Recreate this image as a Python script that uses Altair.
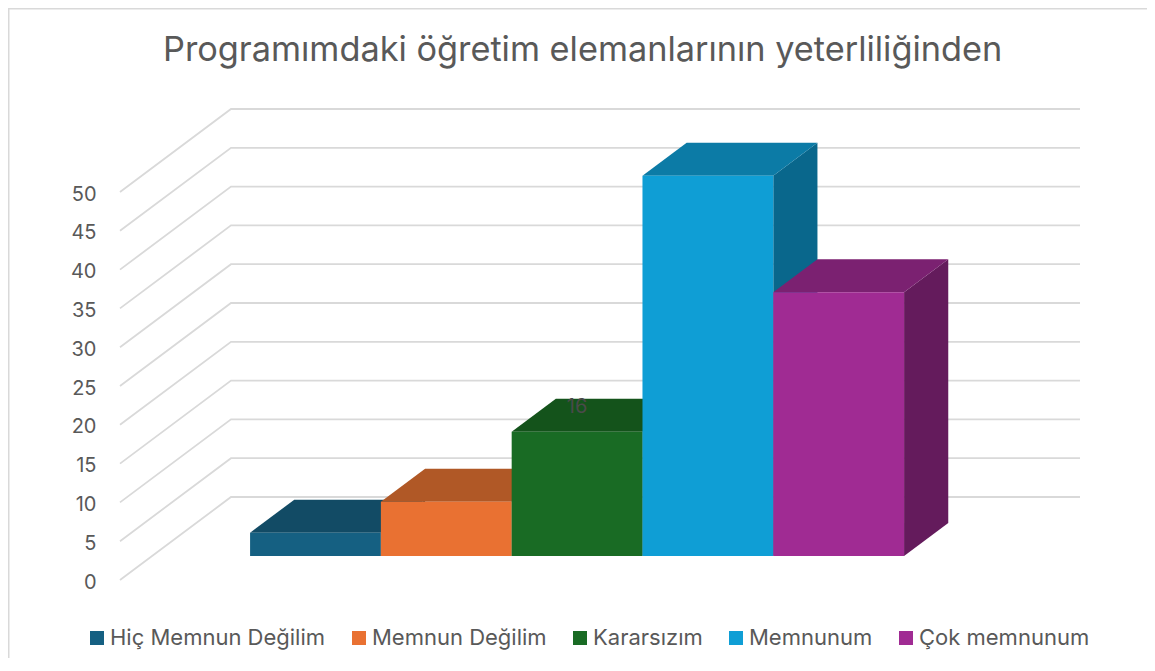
import altair as alt
import pandas as pd

categories = ["Hiç Memnun Değilim", "Memnun Değilim", "Kararsızım", "Memnunum", "Çok memnunum"]
values = [3, 7, 16, 49, 34]
front_colors = ["#156082", "#E97132", "#196B24", "#0F9ED5", "#A02B93"]
top_colors = ["#124B65", "#B05826", "#14531B", "#0C7BA6", "#7B2171"]
side_colors = ["#0D3D53", "#934A20", "#104416", "#09678C", "#641B5C"]
tick_values = [0, 5, 10, 15, 20, 25, 30, 35, 40, 45, 50]
labelled = [16]

W, H = 1139, 650
FONT = "Inter"
TEXT = "#595959"
PX = 388 / 50            # pixels per value unit
Y0 = 572                 # chart-pixel row of value 0 on the front edge of the floor
WALL_DX, WALL_DV = 111, 83 / PX
FLOOR_X, FLOOR_W = 112, 849
FRONT, BACK = 0.289, 0.687
BAR_START, BAR_W = 98, 130.8

xs = alt.Scale(domain=[0, W], range=[0, W], nice=False, zero=False)
ys = alt.Scale(domain=[(Y0 - H) / PX, Y0 / PX], nice=False, zero=False)
yaxis = alt.Axis(values=tick_values, title=None, grid=False, ticks=False, domain=False,
                 offset=-88, labelPadding=0, labelOffset=2, labelFont=FONT, labelFontSize=20, labelColor=TEXT)
X = alt.X("x:Q", scale=xs, axis=None)
Y = alt.Y("y:Q", scale=ys, axis=yaxis)


def px(u, depth):
    return FLOOR_X + u + WALL_DX * depth


def pv(v, depth):
    return v + WALL_DV * depth


# frame
frame = [
    alt.Chart(pd.DataFrame({"x": [0, W], "y": [Y0 / PX, Y0 / PX]})).mark_line(color="#d9d9d9", strokeWidth=3).encode(X, Y),
    alt.Chart(pd.DataFrame({"x": [0, 0], "y": [Y0 / PX, (Y0 - H) / PX]})).mark_line(color="#d9d9d9", strokeWidth=3).encode(X, Y),
]

# grid: side wall and back wall
grid_rows = []
for t in tick_values:
    grid_rows += [
        {"t": t, "o": 0, "x": px(0, 0), "y": pv(t, 0)},
        {"t": t, "o": 1, "x": px(0, 1), "y": pv(t, 1)},
        {"t": t, "o": 2, "x": px(FLOOR_W, 1), "y": pv(t, 1)},
    ]
grid = alt.Chart(pd.DataFrame(grid_rows)).mark_line(color="#d9d9d9", strokeWidth=1.8).encode(
    X, Y, detail="t:N", order="o:Q")

layers = frame + [grid]
for i, (cat, v) in enumerate(zip(categories, values)):
    l = BAR_START + i * BAR_W
    r = l + BAR_W
    shift = WALL_DX * (BACK - FRONT)
    side = pd.DataFrame({
        "x": [px(r, FRONT), px(r, FRONT) + shift],
        "y": [pv(0, FRONT), pv(0, BACK)],
        "y2": [pv(v, FRONT), pv(v, BACK)],
    })
    top = pd.DataFrame({
        "x": [px(l, FRONT), px(l, FRONT) + shift, px(r, FRONT), px(r, FRONT) + shift],
        "y": [pv(v, FRONT), pv(v, FRONT), pv(v, FRONT), pv(v, BACK)],
        "y2": [pv(v, FRONT), pv(v, BACK), pv(v, BACK), pv(v, BACK)],
    })
    front = pd.DataFrame({
        "x": [px(l, FRONT)], "x2": [px(r, FRONT)],
        "y": [pv(0, FRONT)], "y2": [pv(v, FRONT)], "cat": [cat],
    })
    layers.append(alt.Chart(side).mark_area(orient="vertical", color=side_colors[i]).encode(X, Y, y2="y2:Q"))
    layers.append(alt.Chart(top).mark_area(orient="vertical", color=top_colors[i]).encode(X, Y, y2="y2:Q"))
    layers.append(alt.Chart(front).mark_rect().encode(
        X, Y, x2="x2:Q", y2="y2:Q",
        color=alt.Color("cat:N", scale=alt.Scale(domain=categories, range=front_colors),
                        legend=alt.Legend(title=None, orient="none", legendX=78, legendY=619,
                                          direction="horizontal", columns=5, symbolType="square",
                                          symbolSize=196, symbolStrokeWidth=0, symbolOpacity=1,
                                          labelFont=FONT, labelFontSize=22, labelColor=TEXT,
                                          labelOffset=2, columnPadding=22, labelLimit=400,
                                          gridAlign="none"))))

label_rows = [
    {"x": px(BAR_START + (categories.index(c) + 0.5) * BAR_W, FRONT),
     "y": pv(v, FRONT) + 25 / PX, "t": str(v)}
    for c, v in zip(categories, values) if v in labelled
]
label = alt.Chart(pd.DataFrame(label_rows)).mark_text(
    font=FONT, fontSize=20, color="#4a4a4a", baseline="middle", align="center"
).encode(X, Y, text="t:N")
layers.append(label)

chart = alt.layer(*layers).properties(
    width=W, height=H,
    padding=0,
    autosize=alt.AutoSizeParams(type="none"),
    title=alt.TitleParams("Programımdaki öğretim elemanlarının yeterliliğinden", font=FONT, fontSize=34.3,
                          fontWeight="normal", color=TEXT, anchor="start", frame="group",
                          dx=155, offset=-66),
).configure_view(stroke=None)

chart.save("out.html", embed_options={"renderer": "svg", "actions": False})
